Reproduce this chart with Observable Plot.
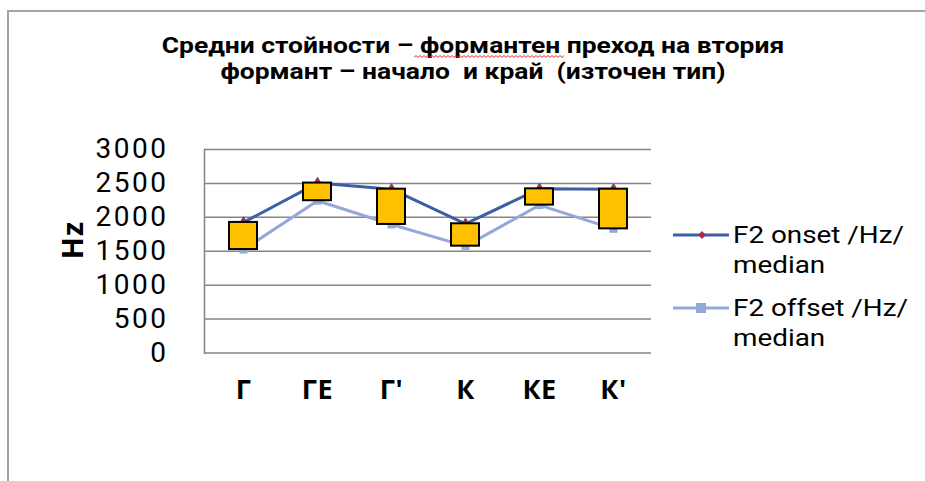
<!DOCTYPE html>
<html>
<head>
<meta charset="utf-8">
<script src="https://cdn.jsdelivr.net/npm/d3@7"></script>
<script src="https://cdn.jsdelivr.net/npm/@observablehq/plot@0.6"></script>
<style>
  html, body { margin: 0; padding: 0; background: #fff; }
  #page { position: relative; width: 925px; height: 481px; overflow: hidden; font-family: "Open Sans", sans-serif; }
  #border { position: absolute; left: 7px; top: 10px; width: 940px; height: 500px; border-top: 2px solid #a3a3a3; border-left: 2px solid #a3a3a3; }
  .title { position: absolute; left: 0; width: 946px; height: 25px; text-align: center; font-family: Roboto, sans-serif; font-weight: bold; font-size: 21.5px; line-height: 25px; color: #000; white-space: pre; transform: scaleX(1.23); transform-origin: 473px 50%; }
  #chart { position: absolute; left: 0; top: 95px; }
  .leg { position: absolute; font-family: Roboto, sans-serif; font-size: 24px; line-height: 28px; color: #000; white-space: pre; transform: scaleX(1.16); transform-origin: 0 50%; }
  .sw { position: absolute; }
  svg [aria-label="y-axis tick label"] { letter-spacing: 2.5px; }
  svg [aria-label="x-axis tick label"] { letter-spacing: 0.5px; }
  svg [aria-label="text"] { letter-spacing: 1px; }
</style>
</head>
<body>
<div id="page">
  <div id="border"></div>
  <div class="title" style="top:32.5px">Средни стойности – формантен преход на втория</div>
  <div class="title" style="top:58.5px">формант – начало  и край  (източен тип)</div>
  <svg class="sw" style="left:414px;top:54px" width="150" height="5"><path d="M0,3.5 l2,-2 l2,2 l2,-2 l2,2 l2,-2 l2,2 l2,-2 l2,2 l2,-2 l2,2 l2,-2 l2,2 l2,-2 l2,2 l2,-2 l2,2 l2,-2 l2,2 l2,-2 l2,2 l2,-2 l2,2 l2,-2 l2,2 l2,-2 l2,2 l2,-2 l2,2 l2,-2 l2,2 l2,-2 l2,2 l2,-2 l2,2 l2,-2 l2,2 l2,-2 l2,2 l2,-2 l2,2 l2,-2 l2,2 l2,-2 l2,2 l2,-2 l2,2 l2,-2 l2,2 l2,-2 l2,2 l2,-2 l2,2 l2,-2 l2,2 l2,-2 l2,2 l2,-2 l2,2 l2,-2 l2,2 l2,-2 l2,2 l2,-2 l2,2 l2,-2 l2,2 l2,-2 l2,2 l2,-2 l2,2 l2,-2 l2,2 l2,-2 l2,2 l2,-2 l2,2 l2,-2 l2,2 l2,-2 l2,2 l2,-2 l2,2 l2,-2" fill="none" stroke="#e0201a" stroke-width="1"/></svg>
  <div id="chart"></div>
  <svg class="sw" style="left:672px;top:227px" width="58" height="16"><line x1="1" y1="8" x2="57" y2="8" stroke="#3d5fa6" stroke-width="3"/><path d="M26.5,8 L30,4.5 L33.5,8 L30,11.5 Z" fill="#e8141c" stroke="#3d5fa6" stroke-width="1"/></svg>
  <div class="leg" style="left:733px;top:221px">F2 onset /Hz/</div>
  <div class="leg" style="left:733px;top:251px">median</div>
  <svg class="sw" style="left:672px;top:300px" width="58" height="16"><line x1="1" y1="8" x2="57" y2="8" stroke="#93a9d9" stroke-width="3"/><rect x="24" y="3" width="10" height="10" fill="#93a9d9"/></svg>
  <div class="leg" style="left:733px;top:294px">F2 offset /Hz/</div>
  <div class="leg" style="left:733px;top:324px">median</div>
</div>
<script>
const cats = ["Г", "ГЕ", "Г'", "К", "КЕ", "К'"];
const onset = [1925, 2505, 2415, 1905, 2420, 2415];
const offset = [1525, 2245, 1895, 1575, 2180, 1830];
const yTicks = [0, 500, 1000, 1500, 2000, 2500, 3000];
const yLabel = "Hz";

const data = cats.map((c, i) => ({cat: c, onset: onset[i], offset: offset[i]}));

const chart = Plot.plot({
  width: 925,
  height: 386,
  marginTop: 54,
  marginBottom: 128.5,
  marginLeft: 204,
  marginRight: 274,
  style: {fontFamily: "'Open Sans', sans-serif", color: "#000", background: "transparent"},
  x: {type: "band", domain: cats, padding: 0},
  y: {domain: [0, 3000], label: null},
  marks: [
    Plot.ruleY(yTicks, {stroke: "#858585", strokeWidth: 1.5}),
    Plot.frame({anchor: "left", stroke: "#858585", strokeWidth: 1.5}),
    Plot.axisY({ticks: yTicks, tickSize: 0, tickPadding: 36, fontSize: 28, fontFamily: "Roboto, sans-serif", label: null, tickFormat: d => String(d)}),
    Plot.axisX({tickSize: 0, tickPadding: 27, fontSize: 27, fontWeight: "bold", label: null}),
    Plot.text([yLabel], {frameAnchor: "left", dx: -131, dy: 8, rotate: -90, fontSize: 29, fontWeight: "bold", fill: "#000"}),
    Plot.line(data, {x: "cat", y: "offset", stroke: "#93a9d9", strokeWidth: 3}),
    Plot.dot(data, {x: "cat", y: "offset", symbol: "square", fill: "#93a9d9", r: 4.5}),
    Plot.line(data, {x: "cat", y: "onset", stroke: "#3d5fa6", strokeWidth: 3}),
    Plot.dot(data, {x: "cat", y: "onset", symbol: "diamond", fill: "#e8141c", stroke: "#3d5fa6", strokeWidth: 1, r: 3.5}),
    Plot.barY(data, {x: "cat", y1: "offset", y2: "onset", fill: "#FFC000", stroke: "#000", strokeWidth: 2, insetLeft: 23, insetRight: 23})
  ]
});
document.getElementById("chart").appendChild(chart);
</script>
</body>
</html>
